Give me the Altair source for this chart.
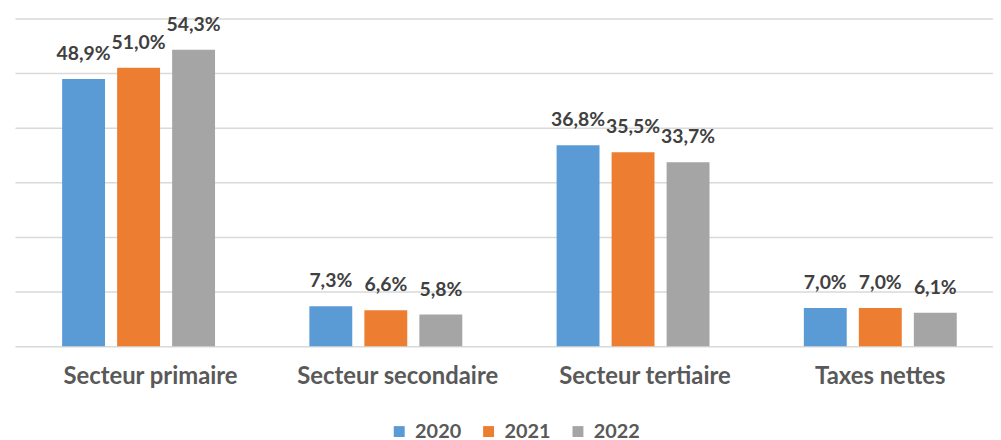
import altair as alt
import pandas as pd

categories = ["Secteur primaire", "Secteur secondaire", "Secteur tertiaire", "Taxes nettes"]
years = ["2020", "2021", "2022"]
v2020 = [48.9, 7.3, 36.8, 7.0]
v2021 = [51.0, 6.6, 35.5, 7.0]
v2022 = [54.3, 5.8, 33.7, 6.1]
colors = ["#5B9BD5", "#ED7D31", "#A5A5A5"]
grid_values = [0, 10, 20, 30, 40, 50, 60]

rows = []
for yr, vals in zip(years, [v2020, v2021, v2022]):
    for c, v in zip(categories, vals):
        rows.append({"cat": c, "year": yr, "value": v})
df = pd.DataFrame(rows)

FONT = "Lato"

x_enc = alt.X(
    "cat:N", sort=categories, title=None,
    scale=alt.Scale(paddingInner=0.3815, paddingOuter=0.1687, align=0.5655),
    axis=alt.Axis(labelAngle=0, labelFont=FONT, labelFontWeight="bold", labelFontSize=24,
                  labelColor="#595959", ticks=False, domain=False, labelPadding=19,
                  labelLimit=400, grid=False,
                  labelOffset={"condition": {"test": "datum.value == 'Taxes nettes'", "value": 0},
                               "value": 12}),
)
xoff_enc = alt.XOffset("year:N", sort=years, scale=alt.Scale(paddingInner=0.22, paddingOuter=0))
y_enc = alt.Y(
    "value:Q", title=None,
    scale=alt.Scale(domain=[0, 60], nice=False, zero=True),
    axis=alt.Axis(values=grid_values, labels=False, ticks=False, domain=False,
                  gridColor="#d9d9d9", gridWidth=1.5),
)

base = alt.Chart(df).encode(x=x_enc, xOffset=xoff_enc, y=y_enc)

bars = base.mark_bar().encode(
    color=alt.Color(
        "year:N", sort=years,
        scale=alt.Scale(domain=years, range=colors),
        legend=alt.Legend(orient="none", legendX=377, legendY=406, direction="horizontal",
                          title=None, symbolType="square", symbolSize=121, symbolStrokeWidth=0,
                          labelFont=FONT, labelFontSize=20, labelFontWeight="bold",
                          labelColor="#595959", labelOffset=6, columnPadding=17, padding=0),
    )
)

labels = base.mark_text(
    dy=-19, baseline="alphabetic", align="center", font=FONT, fontWeight="bold",
    fontSize=19.5, color="#404040",
).transform_calculate(
    label="replace(format(datum.value, '.1f'), '.', ',') + '%'"
).encode(text="label:N")

chart = alt.layer(bars, labels).properties(
    width=985, height=330,
    padding={"left": 7, "top": 5, "right": 0, "bottom": 8},
    background="white",
).configure_view(stroke=None)

chart.save("out.html", embed_options={"renderer": "svg", "actions": False})
